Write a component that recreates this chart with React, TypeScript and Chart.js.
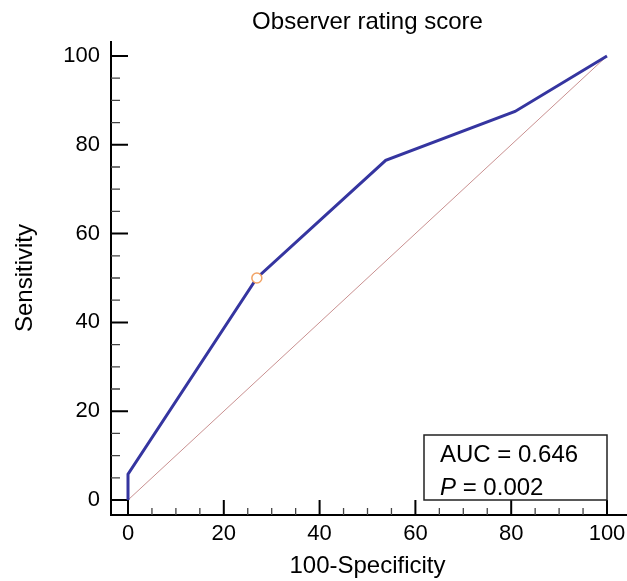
import React, { useEffect, useRef } from "react";
import { Chart, registerables } from "chart.js";

Chart.register(...registerables);

const titleText = "Observer rating score";
const xAxisTitle = "100-Specificity";
const yAxisTitle = "Sensitivity";
const rocX = [0, 0, 26.9, 53.8, 80.8, 100];
const rocY = [0, 5.8, 50, 76.5, 87.5, 100];
const diagX = [0, 100];
const diagY = [0, 100];
const criterionX = [26.9];
const criterionY = [50];
const tickValues = [0, 20, 40, 60, 80, 100];
const minorStep = 5;
const aucLabel = "AUC = 0.646";
const pLabel = "P";
const pValueText = " = 0.002";

const FONT = "'Liberation Sans', Arial, sans-serif";

const axesPlugin = {
  id: "offsetAxes",
  beforeDatasetsDraw(chart: any) {
    const { ctx, chartArea, scales } = chart;
    const xs = scales.x;
    const ys = scales.y;
    const axX = chartArea.left - 17;
    const axY = chartArea.bottom + 15;
    ctx.save();
    ctx.strokeStyle = "#000";
    ctx.lineWidth = 2;
    ctx.beginPath();
    ctx.moveTo(axX, chartArea.top - 15);
    ctx.lineTo(axX, axY + 1);
    ctx.moveTo(axX - 1, axY);
    ctx.lineTo(chart.width, axY);
    ctx.stroke();
    const min = tickValues[0];
    const max = tickValues[tickValues.length - 1];
    for (let v = min; v <= max; v += minorStep) {
      const major = tickValues.includes(v);
      ctx.beginPath();
      ctx.lineWidth = major ? 2 : 1.3;
      ctx.strokeStyle = major ? "#000" : "#444";
      const py = ys.getPixelForValue(v);
      ctx.moveTo(axX, py);
      ctx.lineTo(axX + (major ? 17 : 9), py);
      const px = xs.getPixelForValue(v);
      ctx.moveTo(px, axY);
      ctx.lineTo(px, axY - (major ? 15 : 7));
      ctx.stroke();
    }
    ctx.restore();
  },
};

const aucPlugin = {
  id: "aucBox",
  afterDatasetsDraw(chart: any) {
    const { ctx, chartArea } = chart;
    const right = chartArea.right;
    const bottom = chartArea.bottom;
    const left = right - 183;
    const top = bottom - 65;
    ctx.save();
    ctx.fillStyle = "#fff";
    ctx.fillRect(left, top, right - left, bottom - top);
    ctx.strokeStyle = "#222";
    ctx.lineWidth = 1.5;
    ctx.strokeRect(left, top, right - left, bottom - top);
    ctx.fillStyle = "#000";
    ctx.textBaseline = "alphabetic";
    ctx.textAlign = "left";
    ctx.font = `24px ${FONT}`;
    ctx.fillText(aucLabel, left + 16, top + 27);
    ctx.font = `italic 24px ${FONT}`;
    ctx.fillText(pLabel, left + 16, top + 60);
    const w = ctx.measureText(pLabel).width;
    ctx.font = `24px ${FONT}`;
    ctx.fillText(pValueText, left + 16 + w, top + 60);
    ctx.restore();
  },
};

export default function App() {
  const ref = useRef<HTMLCanvasElement | null>(null);
  useEffect(() => {
    if (!ref.current) return;
    const setTicks = (scale: any) => {
      scale.ticks = tickValues.map((v) => ({ value: v }));
    };
    const chart = new Chart(ref.current, {
      type: "scatter",
      data: {
        datasets: [
          {
            label: "diagonal",
            data: diagX.map((x, i) => ({ x, y: diagY[i] })),
            showLine: true,
            borderColor: "#c99090",
            borderWidth: 1,
            pointRadius: 0,
            clip: false,
            order: 3,
          },
          {
            label: "ROC",
            data: rocX.map((x, i) => ({ x, y: rocY[i] })),
            showLine: true,
            borderColor: "#3535a0",
            borderWidth: 3,
            pointRadius: 0,
            clip: false,
            order: 2,
          },
          {
            label: "criterion",
            data: criterionX.map((x, i) => ({ x, y: criterionY[i] })),
            showLine: false,
            pointRadius: 5,
            pointBorderWidth: 1.5,
            pointBorderColor: "#f2a366",
            pointBackgroundColor: "#ffffff",
            clip: false,
            order: 1,
          },
        ],
      },
      options: {
        animation: false,
        responsive: false,
        devicePixelRatio: 1,
        layout: { padding: { left: 0, right: 20, top: 0, bottom: 0 } },
        plugins: {
          legend: { display: false },
          tooltip: { enabled: false },
          title: {
            display: true,
            fullSize: false,
            text: titleText,
            color: "#000",
            font: { family: FONT, size: 24, weight: "normal" },
            padding: { top: 8, bottom: 19.2 },
          },
        },
        scales: {
          x: {
            type: "linear",
            min: 0,
            max: 100,
            afterBuildTicks: setTicks,
            afterFit: (s: any) => {
              s.height = 81;
              s.paddingRight = 0;
              s.paddingLeft = 0;
            },
            grid: { display: false, drawTicks: false },
            border: { display: false },
            ticks: {
              color: "#000",
              font: { family: FONT, size: 22 },
              padding: 21,
              maxRotation: 0,
            },
            title: {
              display: true,
              text: xAxisTitle,
              color: "#000",
              font: { family: FONT, size: 24 },
              padding: { top: 0, bottom: 0 },
            },
          },
          y: {
            type: "linear",
            min: 0,
            max: 100,
            afterBuildTicks: setTicks,
            afterFit: (s: any) => {
              s.width = 128;
              s.paddingTop = 0;
              s.paddingBottom = 0;
            },
            grid: { display: false, drawTicks: false },
            border: { display: false },
            ticks: {
              color: "#000",
              font: { family: FONT, size: 22 },
              padding: 28,
            },
            title: {
              display: true,
              text: yAxisTitle,
              color: "#000",
              font: { family: FONT, size: 24 },
              padding: { top: 10.6, bottom: 0 },
            },
          },
        },
      },
      plugins: [axesPlugin, aucPlugin],
    });
    return () => chart.destroy();
  }, []);
  return (
    <div style={{ position: "fixed", left: 0, top: 0, width: 627, height: 581, background: "#fff" }}>
      <canvas ref={ref} width={627} height={581} style={{ width: 627, height: 581 }} />
    </div>
  );
}
